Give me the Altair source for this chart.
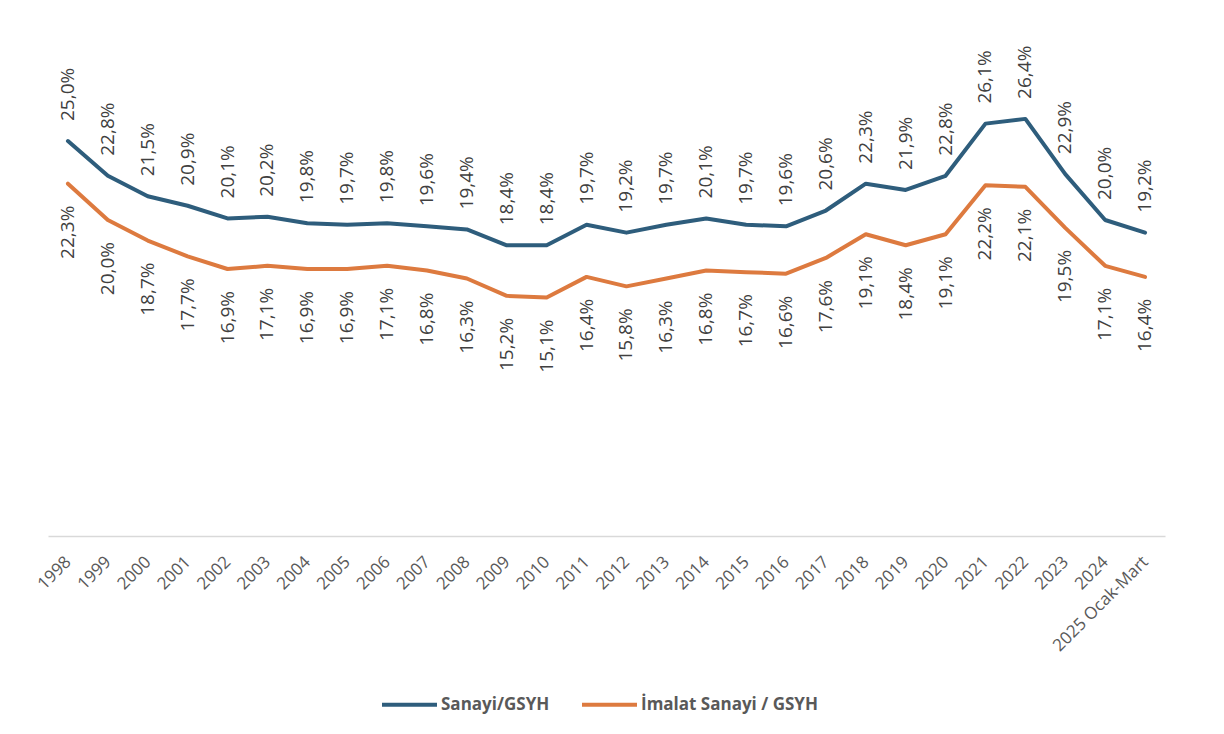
import altair as alt
import pandas as pd

years = ["1998", "1999", "2000", "2001", "2002", "2003", "2004", "2005", "2006", "2007",
         "2008", "2009", "2010", "2011", "2012", "2013", "2014", "2015", "2016", "2017",
         "2018", "2019", "2020", "2021", "2022", "2023", "2024", "2025 Ocak-Mart"]
sanayi = [25.0, 22.8, 21.5, 20.9, 20.1, 20.2, 19.8, 19.7, 19.8, 19.6, 19.4, 18.4, 18.4, 19.7,
          19.2, 19.7, 20.1, 19.7, 19.6, 20.6, 22.3, 21.9, 22.8, 26.1, 26.4, 22.9, 20.0, 19.2]
imalat = [22.3, 20.0, 18.7, 17.7, 16.9, 17.1, 16.9, 16.9, 17.1, 16.8, 16.3, 15.2, 15.1, 16.4,
          15.8, 16.3, 16.8, 16.7, 16.6, 17.6, 19.1, 18.4, 19.1, 22.2, 22.1, 19.5, 17.1, 16.4]
series_names = ["Sanayi/GSYH", "İmalat Sanayi / GSYH"]
colors = ["#2E5D7C", "#DD7A3F"]

rows = []
for i, y in enumerate(years):
    rows.append({"year": y, "series": series_names[0], "value": sanayi[i],
                 "label": f"{sanayi[i]:.1f}%".replace(".", ",")})
    rows.append({"year": y, "series": series_names[1], "value": imalat[i],
                 "label": f"{imalat[i]:.1f}%".replace(".", ",")})
df = pd.DataFrame(rows)

FONT = "Open Sans"

x = alt.X("year:N", sort=years, title=None,
          scale=alt.Scale(paddingInner=0, paddingOuter=0.5),
          axis=alt.Axis(labelAngle=-45, labelAlign="right", labelBaseline="middle",
                        labelFontSize=17, labelColor="#595959", labelFont=FONT,
                        labelPadding=23, ticks=False, domainColor="#D9D9D9",
                        domainWidth=1.5, labelOverlap=False, labelLimit=300))
y = alt.Y("value:Q", scale=alt.Scale(domain=[0, 30]), axis=None)

lines = alt.Chart(df).mark_line(strokeWidth=4, strokeCap="round", strokeJoin="round").encode(
    x=x, y=y,
    color=alt.Color("series:N", scale=alt.Scale(domain=series_names, range=colors),
                    sort=series_names,
                    legend=alt.Legend(title=None, orient="none", legendX=332, legendY=613,
                                      direction="horizontal", symbolType="stroke",
                                      symbolSize=3025, symbolStrokeWidth=4,
                                      labelFontSize=17, labelFontWeight="bold",
                                      labelColor="#595959", labelFont=FONT,
                                      columnPadding=24, labelOffset=2, labelLimit=300))
)

top_labels = alt.Chart(df[df.series == series_names[0]]).mark_text(
    angle=270, align="left", baseline="middle", dx=20, fontSize=19, font=FONT, color="#404040"
).encode(x=alt.X("year:N", sort=years), y="value:Q", text="label:N")

bottom_labels = alt.Chart(df[df.series == series_names[1]]).mark_text(
    angle=270, align="right", baseline="middle", dx=-22, fontSize=19, font=FONT, color="#404040"
).encode(x=alt.X("year:N", sort=years), y="value:Q", text="label:N")

chart = alt.layer(lines, top_labels, bottom_labels).properties(
    width=1117, height=474,
    autosize=alt.AutoSizeParams(type="none"),
    padding={"left": 48, "top": 62, "right": 59, "bottom": 198},
).configure_view(stroke=None)

chart.save("out.html", embed_options={"renderer": "svg", "actions": False})
